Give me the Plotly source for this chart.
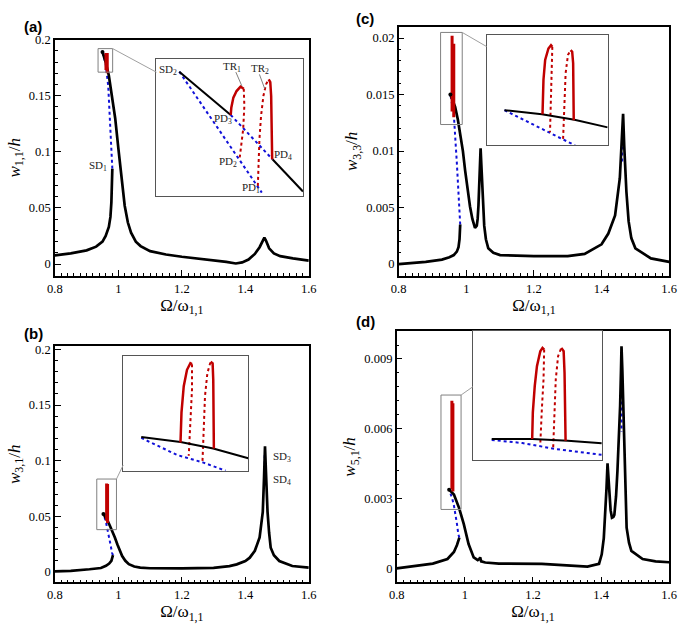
import plotly.graph_objects as go

W, H = 685, 624

# ---------------- data: panel (a) w11/h ----------------
a_low_x = [0.80, 0.85, 0.90, 0.93, 0.95, 0.96, 0.97, 0.975, 0.978, 0.980, 0.981]
a_low_y = [0.0078, 0.0095, 0.0122, 0.0155, 0.020, 0.025, 0.033, 0.042, 0.055, 0.070, 0.085]
a_up_x = [0.950, 0.960, 0.970, 0.980, 0.990, 1.000, 1.010, 1.020, 1.030, 1.040, 1.055, 1.07, 1.10,
          1.15, 1.20, 1.25, 1.30, 1.34, 1.37, 1.39, 1.41, 1.43, 1.445, 1.455, 1.46, 1.465, 1.475,
          1.49, 1.51, 1.55, 1.60]
a_up_y = [0.189, 0.180, 0.168, 0.150, 0.130, 0.103, 0.075, 0.052, 0.037, 0.028, 0.020, 0.016, 0.0115,
          0.0085, 0.0065, 0.005, 0.0035, 0.002, 0.0005, 0.0015, 0.004, 0.009, 0.015, 0.021, 0.0235, 0.021, 0.014,
          0.0095, 0.007, 0.005, 0.003]
a_uns_x = [0.981, 0.978, 0.974, 0.968, 0.960, 0.951]
a_uns_y = [0.085, 0.105, 0.129, 0.159, 0.178, 0.189]
a_red_x = [[0.961, 0.961], [0.965, 0.965]]
a_red_y = [[0.173, 0.188], [0.170, 0.188]]
a_box = [0.936, 0.982, 0.171, 0.192]

# ---------------- data: panel (b) w31/h ----------------
b_low_x = [0.80, 0.85, 0.909, 0.945, 0.961, 0.971, 0.978, 0.981, 0.983]
b_low_y = [0.0005, 0.001, 0.0024, 0.0035, 0.0055, 0.0075, 0.0100, 0.0125, 0.015]
b_up_x = [0.953, 0.960, 0.966, 0.974, 0.981, 0.989, 0.997, 1.005, 1.012, 1.022, 1.033, 1.05, 1.069,
          1.10, 1.20, 1.30, 1.35, 1.373, 1.40, 1.414, 1.43, 1.445, 1.455, 1.459, 1.462, 1.465, 1.47,
          1.475, 1.48, 1.49, 1.507, 1.548, 1.60]
b_up_y = [0.052, 0.049, 0.046, 0.041, 0.0366, 0.031, 0.0247, 0.019, 0.0143, 0.010, 0.0069, 0.0048, 0.0038,
          0.0033, 0.0031, 0.0037, 0.0052, 0.0068, 0.0098, 0.0128, 0.019, 0.031, 0.054, 0.085, 0.113, 0.09, 0.054,
          0.035, 0.0217, 0.015, 0.0098, 0.0053, 0.0039]
b_uns_x = [0.983, 0.980, 0.975, 0.967, 0.960, 0.953]
b_uns_y = [0.015, 0.0172, 0.025, 0.038, 0.046, 0.052]
b_pk_x = [1.461, 1.461]
b_pk_y = [0.105, 0.088]
b_red_x = [[0.963, 0.963], [0.966, 0.966]]
b_red_y = [[0.046, 0.0796], [0.044, 0.0790]]
b_box = [0.932, 0.994, 0.038, 0.0835]

# ---------------- data: panel (c) w33/h ----------------
c_low_x = [0.80, 0.88, 0.928, 0.95, 0.963, 0.972, 0.977, 0.980, 0.982]
c_low_y = [0.0, 0.0002, 0.0004, 0.0006, 0.0008, 0.0011, 0.0015, 0.0022, 0.0035]
c_up_x = [0.953, 0.960, 0.967, 0.975, 0.982, 0.990, 0.9965, 1.004, 1.011, 1.018, 1.0257, 1.031, 1.0336,
          1.036, 1.0385, 1.0405, 1.0423, 1.0445, 1.047, 1.050, 1.053, 1.058, 1.065, 1.08, 1.10, 1.20,
          1.30, 1.35, 1.40, 1.42, 1.44, 1.454, 1.4607, 1.4637, 1.467, 1.4735, 1.48, 1.488, 1.50, 1.546, 1.60]
c_up_y = [0.0150, 0.0145, 0.0139, 0.0128, 0.01155, 0.0100, 0.0083, 0.0066, 0.0051, 0.0040, 0.0032, 0.0034, 0.0040,
          0.0052, 0.0069, 0.0090, 0.01025, 0.0088, 0.0069, 0.0048, 0.0034, 0.0022, 0.0014, 0.0010, 0.0008, 0.0007,
          0.0007, 0.0009, 0.00175, 0.0027, 0.0043, 0.0076, 0.0111, 0.0133, 0.0105, 0.0064, 0.0038, 0.0023, 0.0014,
          0.0005, 0.0002]
c_uns_x = [0.982, 0.977, 0.972, 0.969, 0.963, 0.953]
c_uns_y = [0.0035, 0.0069, 0.0090, 0.0104, 0.0133, 0.0150]
c_pk_x = [1.461, 1.461]
c_pk_y = [0.0120, 0.0090]
c_red_x = [[0.958, 0.958], [0.963, 0.963]]
c_red_y = [[0.0135, 0.0202], [0.0130, 0.0195]]
c_box = [0.924, 0.988, 0.01235, 0.0205]

# ---------------- data: panel (d) w51/h ----------------
d_low_x = [0.80, 0.85, 0.906, 0.949, 0.968, 0.977, 0.984]
d_low_y = [0.0, 0.00008, 0.0002, 0.0004, 0.0007, 0.0010, 0.00132]
d_up_x = [0.954, 0.968, 0.983, 0.997, 1.011, 1.026, 1.038, 1.043, 1.045, 1.048, 1.06, 1.10, 1.226, 1.30,
          1.36, 1.394, 1.402, 1.408, 1.413, 1.416, 1.419, 1.421, 1.424, 1.428, 1.432, 1.436, 1.439, 1.444,
          1.448, 1.452, 1.456, 1.4585, 1.460, 1.4625, 1.465, 1.47, 1.475, 1.482, 1.489, 1.522, 1.56, 1.60]
d_up_y = [0.00338, 0.00317, 0.0026, 0.0019, 0.00104, 0.00047, 0.00035, 0.0004, 0.00047, 0.0003, 0.00025,
          0.0002, 0.00019, 0.00012, 0.00007, 0.00019, 0.0006, 0.0013, 0.0025, 0.00345, 0.00451, 0.0040, 0.00317,
          0.0025, 0.00217, 0.0022, 0.0023, 0.0031, 0.00416, 0.0055, 0.007, 0.0085, 0.00955, 0.0085, 0.007,
          0.00345, 0.00175, 0.0011, 0.00075, 0.0004, 0.0003, 0.00026]
d_uns_x = [0.984, 0.981, 0.977, 0.973, 0.968, 0.963, 0.956, 0.954]
d_uns_y = [0.00132, 0.00146, 0.0019, 0.0023, 0.0027, 0.0030, 0.0033, 0.00338]
d_pk_x = [1.460, 1.460]
d_pk_y = [0.0082, 0.00586]
d_red_x = [[0.962, 0.962], [0.965, 0.965]]
d_red_y = [[0.0034, 0.0072], [0.0033, 0.0071]]
d_box = [0.930, 0.989, 0.00253, 0.00745]

# ---------------- inset data (normalised zoom window) ----------------
ia_black1_x = [0.156, 0.507]; ia_black1_y = [0.910, 0.593]
ia_black2_x = [0.792, 1.0]; ia_black2_y = [0.268, 0.032]
ia_blue1_x = [0.156, 0.719]; ia_blue1_y = [0.910, 0.024]
ia_blue2_x = [0.507, 0.792]; ia_blue2_y = [0.593, 0.268]
ia_tr1s_x = [0.507, 0.511, 0.525, 0.547, 0.574, 0.596]; ia_tr1s_y = [0.593, 0.646, 0.720, 0.768, 0.800, 0.785]
ia_tr1d_x = [0.596, 0.600, 0.592, 0.578, 0.567]; ia_tr1d_y = [0.785, 0.659, 0.488, 0.366, 0.268]
ia_tr2d_x = [0.692, 0.696, 0.703, 0.714, 0.730, 0.748, 0.766]; ia_tr2d_y = [0.073, 0.244, 0.415, 0.585, 0.732, 0.817, 0.854]
ia_tr2s_x = [0.766, 0.777, 0.783, 0.786, 0.790]; ia_tr2s_y = [0.854, 0.834, 0.732, 0.488, 0.268]
ia_labels = ["SD<sub>2</sub>", "PD<sub>3</sub>", "PD<sub>2</sub>", "PD<sub>1</sub>", "PD<sub>4</sub>", "TR<sub>1</sub>", "TR<sub>2</sub>"]
ia_lab_x = [0.078, 0.451, 0.491, 0.643, 0.862, 0.513, 0.708]
ia_lab_y = [0.922, 0.561, 0.249, 0.054, 0.298, 0.946, 0.927]
ia_lead_x = [[0.542, 0.583], [0.703, 0.739]]
ia_lead_y = [[0.907, 0.805], [0.890, 0.785]]

ib_black_x = [0.144, 0.458, 0.720, 1.0]; ib_black_y = [0.294, 0.251, 0.194, 0.109]
ib_blue_x = [0.144, 0.432, 0.641, 0.819]; ib_blue_y = [0.286, 0.137, 0.071, 0.0]
ib_tr1s_x = [0.458, 0.466, 0.484, 0.510, 0.537, 0.550]; ib_tr1s_y = [0.246, 0.509, 0.737, 0.880, 0.937, 0.929]
ib_tr1d_x = [0.550, 0.550, 0.537, 0.524]; ib_tr1d_y = [0.929, 0.709, 0.423, 0.131]
ib_tr2d_x = [0.634, 0.641, 0.654, 0.673, 0.699]; ib_tr2d_y = [0.086, 0.366, 0.651, 0.851, 0.951]
ib_tr2s_x = [0.699, 0.715, 0.720, 0.723, 0.725]; ib_tr2s_y = [0.951, 0.937, 0.794, 0.509, 0.194]

ic_black_x = [0.148, 0.457, 0.726, 1.0]; ic_black_y = [0.318, 0.282, 0.231, 0.163]
ic_blue_x = [0.148, 0.524, 0.632, 0.731]; ic_blue_y = [0.318, 0.113, 0.059, 0.0]
ic_tr1s_x = [0.462, 0.470, 0.484, 0.511, 0.532, 0.543]; ic_tr1s_y = [0.282, 0.593, 0.772, 0.875, 0.905, 0.890]
ic_tr1d_x = [0.543, 0.538, 0.530, 0.524]; ic_tr1d_y = [0.890, 0.653, 0.415, 0.119]
ic_tr2d_x = [0.632, 0.640, 0.653, 0.672, 0.694]; ic_tr2d_y = [0.059, 0.356, 0.653, 0.816, 0.861]
ic_tr2s_x = [0.694, 0.707, 0.715, 0.718, 0.720]; ic_tr2s_y = [0.861, 0.846, 0.742, 0.504, 0.228]

id_black_x = [0.146, 0.460, 0.736, 1.0]; id_black_y = [0.162, 0.162, 0.149, 0.129]
id_blue_x = [0.146, 0.384, 0.636, 1.0]; id_blue_y = [0.155, 0.131, 0.085, 0.039]
id_tr1s_x = [0.460, 0.465, 0.480, 0.497, 0.523, 0.540, 0.553]; id_tr1s_y = [0.162, 0.369, 0.575, 0.729, 0.845, 0.871, 0.858]
id_tr1d_x = [0.553, 0.548, 0.535, 0.523]; id_tr1d_y = [0.858, 0.626, 0.394, 0.124]
id_tr2d_x = [0.623, 0.631, 0.643, 0.661, 0.686]; id_tr2d_y = [0.098, 0.369, 0.626, 0.807, 0.871]
id_tr2s_x = [0.686, 0.704, 0.711, 0.714, 0.719]; id_tr2s_y = [0.871, 0.845, 0.678, 0.420, 0.149]

# ---------------- layout geometry (pixels) ----------------
panels = {
    "a": dict(ax="", px=(48, 308), py=(33, 272), yr=[-0.0106, 0.2], dty=0.05, mty=0.01,
              ytitle="<i>w</i><sub>1,1</sub>/<i>h</i>", inset=(152, 302, 53, 191), ins_ax="5", conn_y=0.906),
    "b": dict(ax="2", px=(48, 308), py=(343, 582), yr=[-0.0095, 0.203], dty=0.05, mty=0.01,
              ytitle="<i>w</i><sub>3,1</sub>/<i>h</i>", inset=(118, 246, 353, 469), ins_ax="6", conn_y=0.05),
    "c": dict(ax="3", px=(400, 677), py=(20, 272), yr=[-0.00105, 0.0210], dty=0.005, mty=0.001,
              ytitle="<i>w</i><sub>3,3</sub>/<i>h</i>", inset=(490, 614, 28, 140), ins_ax="7", conn_y=0.893),
    "d": dict(ax="4", px=(398, 677), py=(328, 582), yr=[-0.00061, 0.01019], dty=0.003, mty=0.0006,
              ytitle="<i>w</i><sub>5,1</sub>/<i>h</i>", inset=(476, 608, 328, 458), ins_ax="8", conn_y=0.569),
}
XR = [0.8, 1.6]

BLACK = "black"
BLUE = "#1010d8"
RED = "#c00000"
SERIF = "Liberation Serif, Times New Roman, serif"

fig = go.Figure()

def add(x, y, ax, color, width, dash="solid"):
    fig.add_trace(go.Scatter(x=x, y=y, mode="lines", xaxis="x" + ax, yaxis="y" + ax,
                             line=dict(color=color, width=width, dash=dash),
                             showlegend=False, hoverinfo="skip"))

main_data = {
    "a": (a_low_x, a_low_y, a_up_x, a_up_y, a_uns_x, a_uns_y, None, None, a_red_x, a_red_y, a_box),
    "b": (b_low_x, b_low_y, b_up_x, b_up_y, b_uns_x, b_uns_y, b_pk_x, b_pk_y, b_red_x, b_red_y, b_box),
    "c": (c_low_x, c_low_y, c_up_x, c_up_y, c_uns_x, c_uns_y, c_pk_x, c_pk_y, c_red_x, c_red_y, c_box),
    "d": (d_low_x, d_low_y, d_up_x, d_up_y, d_uns_x, d_uns_y, d_pk_x, d_pk_y, d_red_x, d_red_y, d_box),
}

layout = dict(width=W, height=H, margin=dict(l=0, r=0, t=0, b=0),
              paper_bgcolor="white", plot_bgcolor="white", showlegend=False,
              font=dict(family=SERIF, color="black", size=12))
shapes = []
annotations = []

for key, p in panels.items():
    ax = p["ax"]
    lx, ly, ux, uy, bx, by, pkx, pky, rx, ry, box = main_data[key]
    add(bx, by, ax, BLUE, 2, "dot")
    if pkx is not None:
        add(pkx, pky, ax, BLUE, 2, "dot")
    add(lx, ly, ax, BLACK, 2.7)
    add(ux, uy, ax, BLACK, 2.7)
    for xx, yy in zip(rx, ry):
        add(xx, yy, ax, RED, 3)
    # SD2 dot
    fig.add_trace(go.Scatter(x=[ux[0]], y=[uy[0]], mode="markers", xaxis="x" + ax, yaxis="y" + ax,
                             marker=dict(color="black", size=4), showlegend=False, hoverinfo="skip"))
    xd = [p["px"][0] / W, p["px"][1] / W]
    yd = [1 - p["py"][1] / H, 1 - p["py"][0] / H]
    xname = "xaxis" + ax
    yname = "yaxis" + ax
    layout[xname] = dict(domain=xd, range=XR, anchor="y" + ax, dtick=0.2, tick0=0.8,
                         ticks="inside", ticklen=6, tickcolor="black", showline=True, mirror=True,
                         linecolor="black", linewidth=1.5, showgrid=False, zeroline=False,
                         minor=dict(ticks="inside", ticklen=3, dtick=0.02, tickcolor="black"),
                         tickfont=dict(family=SERIF, size=12.5),
                         title=dict(text="Ω/ω<sub>1,1</sub>", font=dict(family=SERIF, size=17), standoff=2))
    layout[yname] = dict(domain=yd, range=p["yr"], anchor="x" + ax, dtick=p["dty"], tick0=0,
                         ticks="inside", ticklen=6, tickcolor="black", showline=True, mirror=True,
                         linecolor="black", linewidth=1.5, showgrid=False, zeroline=False,
                         minor=dict(ticks="inside", ticklen=3, dtick=p["mty"], tickcolor="black"),
                         tickfont=dict(family=SERIF, size=12.5),
                         title=dict(text=p["ytitle"], font=dict(family=SERIF, size=17), standoff=4))
    # zoom box in main axes
    shapes.append(dict(type="rect", xref="x" + ax, yref="y" + ax, x0=box[0], x1=box[1], y0=box[2], y1=box[3],
                       line=dict(color="#808080", width=1)))
    # inset axes
    ia = p["ins_ax"]
    ix0, ix1, iy0, iy1 = p["inset"]
    ixd = [ix0 / W, ix1 / W]
    iyd = [1 - iy1 / H, 1 - iy0 / H]
    for nm, dom in (("xaxis" + ia, ixd), ("yaxis" + ia, iyd)):
        layout[nm] = dict(domain=dom, range=[0, 1], anchor=("y" if nm.startswith("x") else "x") + ia,
                          showline=True, mirror=True, linecolor="#555555", linewidth=1.2,
                          showticklabels=False, ticks="", showgrid=False, zeroline=False)
    # connector line: box top-right corner (data) -> inset left edge
    cx = xd[0] + (box[1] - XR[0]) / (XR[1] - XR[0]) * (xd[1] - xd[0])
    cy = yd[0] + (box[3] - p["yr"][0]) / (p["yr"][1] - p["yr"][0]) * (yd[1] - yd[0])
    tx = ixd[0]
    ty = iyd[0] + p["conn_y"] * (iyd[1] - iyd[0])
    shapes.append(dict(type="line", xref="paper", yref="paper", x0=cx, y0=cy, x1=tx, y1=ty,
                       line=dict(color="#a0a0a0", width=1)))

# inset traces
def inset(ax, blk, blu, t1s, t1d, t2d, t2s):
    for (x, y) in blu:
        add(x, y, ax, BLUE, 2, "dot")
    add(t1d[0], t1d[1], ax, RED, 2, "dot")
    add(t2d[0], t2d[1], ax, RED, 2, "dot")
    for (x, y) in blk:
        add(x, y, ax, BLACK, 2)
    add(t1s[0], t1s[1], ax, RED, 2.5)
    add(t2s[0], t2s[1], ax, RED, 2.5)

inset("5", [(ia_black1_x, ia_black1_y), (ia_black2_x, ia_black2_y)],
      [(ia_blue1_x, ia_blue1_y), (ia_blue2_x, ia_blue2_y)],
      (ia_tr1s_x, ia_tr1s_y), (ia_tr1d_x, ia_tr1d_y), (ia_tr2d_x, ia_tr2d_y), (ia_tr2s_x, ia_tr2s_y))
for lx_, ly_ in zip(ia_lead_x, ia_lead_y):
    add(lx_, ly_, "5", "#808080", 1)
inset("6", [(ib_black_x, ib_black_y)], [(ib_blue_x, ib_blue_y)],
      (ib_tr1s_x, ib_tr1s_y), (ib_tr1d_x, ib_tr1d_y), (ib_tr2d_x, ib_tr2d_y), (ib_tr2s_x, ib_tr2s_y))
inset("7", [(ic_black_x, ic_black_y)], [(ic_blue_x, ic_blue_y)],
      (ic_tr1s_x, ic_tr1s_y), (ic_tr1d_x, ic_tr1d_y), (ic_tr2d_x, ic_tr2d_y), (ic_tr2s_x, ic_tr2s_y))
inset("8", [(id_black_x, id_black_y)], [(id_blue_x, id_blue_y)],
      (id_tr1s_x, id_tr1s_y), (id_tr1d_x, id_tr1d_y), (id_tr2d_x, id_tr2d_y), (id_tr2s_x, id_tr2s_y))

# inset labels (a)
for t, x, y in zip(ia_labels, ia_lab_x, ia_lab_y):
    annotations.append(dict(text=t, x=x, y=y, xref="x5", yref="y5", showarrow=False,
                            font=dict(family=SERIF, size=11, color="#222")))

# main-panel point labels
annotations.append(dict(text="SD<sub>1</sub>", x=0.972, y=0.087, xref="x", yref="y", showarrow=False,
                        xanchor="right", font=dict(family=SERIF, size=11, color="#222")))
annotations.append(dict(text="SD<sub>3</sub>", x=1.482, y=0.103, xref="x2", yref="y2", showarrow=False,
                        xanchor="left", font=dict(family=SERIF, size=11, color="#222")))
annotations.append(dict(text="SD<sub>4</sub>", x=1.482, y=0.083, xref="x2", yref="y2", showarrow=False,
                        xanchor="left", font=dict(family=SERIF, size=11, color="#222")))

# panel letters
for t, px_, py_ in (("(a)", 14, 20), ("(b)", 14, 330), ("(c)", 354, 12), ("(d)", 354, 318)):
    annotations.append(dict(text="<b>" + t + "</b>", x=px_ / W, y=1 - py_ / H, xref="paper", yref="paper",
                            xanchor="left", yanchor="middle", showarrow=False,
                            font=dict(family="Liberation Sans, Arial, sans-serif", size=15, color="black")))

layout["shapes"] = shapes
layout["annotations"] = annotations
fig.update_layout(**layout)
fig.write_html("out.html", config={"displayModeBar": False},
               post_script="document.body.style.margin='0';document.body.style.overflow='hidden';")
